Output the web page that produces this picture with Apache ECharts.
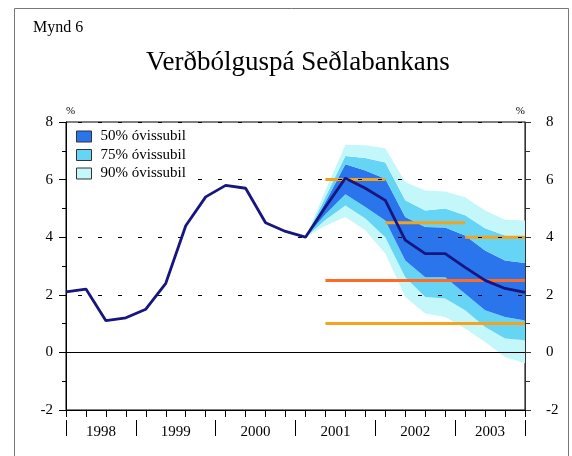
<!DOCTYPE html>
<html>
<head>
<meta charset="utf-8">
<script src="https://cdn.jsdelivr.net/npm/echarts@6/dist/echarts.min.js"></script>
<style>html,body{margin:0;padding:0;background:#fff}#c{width:572px;height:456px}</style>
</head>
<body>
<div id="c"></div>
<script>
// ---- data ----
const years = ['1998', '1999', '2000', '2001', '2002', '2003'];
const quarters = ['1998Q1','1998Q2','1998Q3','1998Q4','1999Q1','1999Q2','1999Q3','1999Q4',
  '2000Q1','2000Q2','2000Q3','2000Q4','2001Q1','2001Q2','2001Q3','2001Q4',
  '2002Q1','2002Q2','2002Q3','2002Q4','2003Q1','2003Q2','2003Q3','2003Q4'];
const yTicks = [-2, 0, 2, 4, 6, 8];
const inflation = [2.1, 2.2, 1.1, 1.2, 1.5, 2.4, 4.4, 5.4, 5.8, 5.7, 4.5, 4.2,
  4.0, 5.05, 6.05, 5.7, 5.28, 3.9, 3.43, 3.43, 2.95, 2.5, 2.22, 2.08];
const N = null;
const lo90 = [N,N,N,N,N,N,N,N,N,N,N,N, 4.0, 4.4, 4.7, 4.24, 3.43, 1.92, 1.35, 1.23, 0.83, 0.36, -0.16, -0.38];
const lo75 = [N,N,N,N,N,N,N,N,N,N,N,N, 4.0, 4.6, 5.1, 4.65, 4.0, 2.61, 1.92, 1.87, 1.46, 0.88, 0.48, 0.42];
const lo50 = [N,N,N,N,N,N,N,N,N,N,N,N, 4.0, 4.8, 5.49, 5.05, 4.58, 3.19, 2.61, 2.61, 2.04, 1.46, 1.23, 1.11];
const up50 = [N,N,N,N,N,N,N,N,N,N,N,N, 4.0, 5.22, 6.53, 6.32, 6.03, 4.7, 4.35, 4.34, 4.06, 3.54, 3.19, 3.1];
const up75 = [N,N,N,N,N,N,N,N,N,N,N,N, 4.0, 5.4, 6.82, 6.75, 6.59, 5.28, 4.93, 5.0, 4.76, 4.31, 4.06, 4.0];
const up90 = [N,N,N,N,N,N,N,N,N,N,N,N, 4.0, 5.62, 7.21, 7.19, 7.09, 5.91, 5.62, 5.59, 5.39, 4.93, 4.61, 4.58];
const limit2001 = [N,N,N,N,N,N,N,N,N,N,N,N,N, 6.0, 6.0, 6.0, 6.0, N,N,N,N,N,N,N];
const limit2002 = [N,N,N,N,N,N,N,N,N,N,N,N,N,N,N,N, 4.5, 4.5, 4.5, 4.5, 4.5, N,N,N];
const limit2003 = [N,N,N,N,N,N,N,N,N,N,N,N,N,N,N,N,N,N,N,N, 4.0, 4.0, 4.0, 4.0];
const target = [N,N,N,N,N,N,N,N,N,N,N,N,N, 2.5, 2.5, 2.5, 2.5, 2.5, 2.5, 2.5, 2.5, 2.5, 2.5, 2.5];
const lowerLimit = [N,N,N,N,N,N,N,N,N,N,N,N,N, 1.0, 1.0, 1.0, 1.0, 1.0, 1.0, 1.0, 1.0, 1.0, 1.0, 1.0];
const bandNames = ['50% óvissubil', '75% óvissubil', '90% óvissubil'];

// ---- build ----
const diff = (a, b) => a.map((v, i) => (v == null || b[i] == null) ? null : +(v - b[i]).toFixed(4));
const FONT = 'Liberation Serif';
const C50 = '#2a74ec', C75 = '#66d4f4', C90 = '#c4f7fa';
const NAVY = '#16167e', ORANGE = '#f5a21e', RED = '#ff6a26';

// year slot axis (quarter resolution x4) for year labels and separators
const slots = [];
for (let i = 0; i <= (quarters.length - 1) * 4; i++) slots.push('');
const sepIdx = [0];
for (let y = 1; y < years.length; y++) sepIdx.push(y * 16 - 2);
sepIdx.push(slots.length - 1);
const labIdx = {};
for (let y = 0; y < years.length; y++) {
  const c = Math.round((sepIdx[y] + sepIdx[y + 1]) / 2);
  slots[c] = years[y];
  labIdx[c] = true;
}

function band(name, data, color) {
  return {
    type: 'line', name: name, data: data, stack: 'fan', stackStrategy: 'all',
    symbol: 'none', color: color, lineStyle: { width: 0, opacity: 0 },
    areaStyle: { color: color, opacity: 1 }, z: 2, silent: true
  };
}
function hline(name, data, color) {
  return {
    type: 'line', name: name, data: data, symbol: 'none', color: color,
    lineStyle: { width: 3, color: color }, z: 4, silent: true
  };
}

const chart = echarts.init(document.getElementById('c'), null, { renderer: 'canvas' });
chart.setOption({
  animation: false,
  backgroundColor: '#fff',
  textStyle: { fontFamily: FONT, color: '#000' },
  title: [
    { text: 'Mynd 6', left: 33, top: 20, padding: 0, textStyle: { fontFamily: FONT, fontSize: 16, fontWeight: 'normal', color: '#000' } },
    { text: 'Verðbólguspá Seðlabankans', left: 146, top: 49, padding: 0, textStyle: { fontFamily: FONT, fontSize: 27, fontWeight: 'normal', color: '#000' } }
  ],
  graphic: [
    { type: 'rect', left: 12, top: 6, shape: { width: 554, height: 470 }, style: { fill: 'none', stroke: '#777', lineWidth: 1 }, silent: true }
  ],
  legend: {
    orient: 'vertical', left: 71, top: 126, icon: 'rect', itemWidth: 15, itemHeight: 11, itemGap: 3.5,
    padding: [3, 8, 3, 5], backgroundColor: '#fff', z: 10,
    data: bandNames,
    itemStyle: { borderColor: '#333', borderWidth: 1 },
    textStyle: { fontFamily: FONT, fontSize: 15, color: '#000', padding: [0, 0, 0, 4] },
    selectedMode: false
  },
  grid: { left: 66, right: 47, top: 122, bottom: 46, show: true, borderColor: '#000', borderWidth: 1, backgroundColor: 'transparent' },
  xAxis: [
    {
      type: 'category', data: quarters, boundaryGap: false,
      axisLine: { onZero: false, lineStyle: { color: '#000', width: 1 } },
      axisTick: { show: true, interval: 0, length: 7, lineStyle: { color: '#000' } },
      axisLabel: { show: false }, splitLine: { show: false }, z: 6
    },
    {
      type: 'category', data: slots, boundaryGap: false, position: 'bottom', offset: 10,
      axisLine: { show: false, onZero: false },
      axisTick: { show: true, length: 16, interval: (i) => sepIdx.indexOf(i) >= 0, lineStyle: { color: '#000' } },
      axisLabel: { show: true, interval: (i) => !!labIdx[i], margin: 5, fontFamily: FONT, fontSize: 15, color: '#000' },
      splitLine: { show: false }
    }
  ],
  yAxis: [
    {
      type: 'value', min: yTicks[0], max: yTicks[yTicks.length - 1], interval: 2, position: 'left',
      name: '%', nameLocation: 'end', nameGap: 5,
      nameTextStyle: { fontFamily: FONT, fontSize: 11, color: '#000', align: 'left' },
      axisLine: { show: true, onZero: false, lineStyle: { color: '#000' } },
      axisTick: { show: true, length: 7, lineStyle: { color: '#000' } },
      minorTick: { show: true, splitNumber: 2, length: 4, lineStyle: { color: '#000' } },
      axisLabel: { margin: 13, fontFamily: FONT, fontSize: 15, color: '#000' },
      splitLine: { show: true, lineStyle: { color: '#000', width: 1, type: [4, 16], dashOffset: 8 } },
      z: 5
    },
    {
      type: 'value', min: yTicks[0], max: yTicks[yTicks.length - 1], interval: 2, position: 'right',
      name: '%', nameLocation: 'end', nameGap: 5,
      nameTextStyle: { fontFamily: FONT, fontSize: 11, color: '#000', align: 'right' },
      axisLine: { show: true, onZero: false, lineStyle: { color: '#333' } },
      axisTick: { show: true, length: 6, lineStyle: { color: '#333' } },
      minorTick: { show: true, splitNumber: 2, length: 5, lineStyle: { color: '#333' } },
      axisLabel: { margin: 21, fontFamily: FONT, fontSize: 15, color: '#000' },
      splitLine: { show: false }
    }
  ],
  series: [
    { type: 'line', name: 'base', data: lo90, stack: 'fan', stackStrategy: 'all', symbol: 'none', lineStyle: { width: 0, opacity: 0 }, silent: true, z: 2 },
    band(bandNames[2], diff(lo75, lo90), C90),
    band(bandNames[1], diff(lo50, lo75), C75),
    band(bandNames[0], diff(up50, lo50), C50),
    band(bandNames[1], diff(up75, up50), C75),
    band(bandNames[2], diff(up90, up75), C90),
    hline('limit2001', limit2001, ORANGE),
    hline('limit2002', limit2002, ORANGE),
    hline('limit2003', limit2003, ORANGE),
    hline('target', target, RED),
    hline('lowerLimit', lowerLimit, ORANGE),
    {
      type: 'line', name: 'Verðbólga', data: inflation, symbol: 'none', color: NAVY,
      lineStyle: { width: 2.8, color: NAVY }, z: 7, silent: true,
      markLine: { silent: true, symbol: 'none', label: { show: false }, animation: false,
        lineStyle: { color: '#000', type: 'solid', width: 1 }, data: [{ yAxis: 0 }] }
    }
  ]
});
</script>
</body>
</html>
